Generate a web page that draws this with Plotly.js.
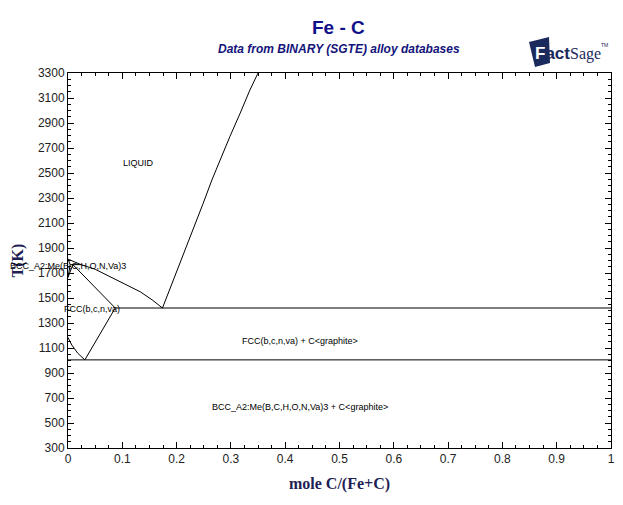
<!DOCTYPE html>
<html>
<head>
<meta charset="utf-8">
<script src="https://cdn.plot.ly/plotly-3.0.1.min.js"></script>
<style>html,body{margin:0;padding:0;background:#fff;}#chart{width:623px;height:505px;}</style>
</head>
<body>
<div id="chart"></div>
<script>
// Phase boundary data (mole fraction C, temperature K)
const liqGraphiteX = [0.174, 0.194, 0.212, 0.231, 0.249, 0.265, 0.280, 0.298, 0.317, 0.335, 0.350];
const liqGraphiteT = [1420, 1644, 1830, 2044, 2258, 2444, 2604, 2790, 2978, 3164, 3300];
const liquidusX = [0.0, 0.024, 0.05, 0.09, 0.133, 0.155, 0.174];
const liquidusT = [1811, 1767, 1730, 1644, 1550, 1485, 1420];
const solidusFccX = [0.009, 0.03, 0.06, 0.087];
const solidusFccT = [1767, 1674, 1540, 1420];
const deltaSolidusX = [0.0, 0.004];
const deltaSolidusT = [1811, 1767];
const deltaGammaBccX = [0.004, 0.0];
const deltaGammaBccT = [1767, 1665];
const deltaGammaFccX = [0.009, 0.0];
const deltaGammaFccT = [1767, 1665];
const peritecticX = [0.004, 0.024];
const peritecticT = [1767, 1767];
const solvusX = [0.031, 0.074, 0.087];
const solvusT = [1005, 1324, 1420];
const a3X = [0.0, 0.007, 0.018, 0.031];
const a3T = [1184, 1124, 1058, 1005];
const eutecticX = [0.087, 1.0];
const eutecticT = [1420, 1420];
const eutectoidX = [0.0, 1.0];
const eutectoidT = [1005, 1005];

const curves = [
  [liqGraphiteX, liqGraphiteT], [liquidusX, liquidusT], [solidusFccX, solidusFccT],
  [deltaSolidusX, deltaSolidusT], [deltaGammaBccX, deltaGammaBccT], [deltaGammaFccX, deltaGammaFccT],
  [peritecticX, peritecticT], [solvusX, solvusT], [a3X, a3T],
  [eutecticX, eutecticT], [eutectoidX, eutectoidT]
];

const labelText = ["LIQUID", "BCC_A2:Me(B,C,H,O,N,Va)3", "FCC(b,c,n,va)", "FCC(b,c,n,va) + C&lt;graphite&gt;", "BCC_A2:Me(B,C,H,O,N,Va)3 + C&lt;graphite&gt;"];
const labelX = [0.129, 0.1105, 0.044, 0.427, 0.427];
const labelT = [2580, 1755, 1416, 1156, 628];
const labelAnchor = ["center", "right", "center", "center", "center"];

const traces = curves.map(c => ({
  x: c[0], y: c[1], type: 'scatter', mode: 'lines',
  line: {color: '#000', width: 1}, hoverinfo: 'skip', showlegend: false, cliponaxis: true
}));

function PX(p){ return (p - 68) / 543; }
function PY(p){ return (448 - p) / 375; }

// x axis spans 0..1, so data x equals paper x; paper ref lets labels extend past the axis
const annotations = labelText.map((t, i) => ({
  x: labelX[i], y: labelT[i], xref: 'paper', yref: 'y', text: t, showarrow: false,
  xanchor: labelAnchor[i], yanchor: 'middle',
  font: {family: 'Liberation Sans, Arial, sans-serif', size: 9, color: '#000'}
}));

annotations.push(
  {x: PX(338), y: PY(28), xref: 'paper', yref: 'paper', text: '<b>Fe - C</b>', showarrow: false,
   xanchor: 'center', yanchor: 'middle', font: {family: 'Liberation Sans, Arial, sans-serif', size: 19, color: '#10108a'}},
  {x: PX(339), y: PY(49), xref: 'paper', yref: 'paper', text: '<b><i>Data from BINARY (SGTE) alloy databases</i></b>', showarrow: false,
   xanchor: 'center', yanchor: 'middle', font: {family: 'Liberation Sans, Arial, sans-serif', size: 12, color: '#14147a'}},
  {x: PX(533), y: PY(53), xref: 'paper', yref: 'paper', text: '<b><span style="color:#ffffff">F</span>act</b>', showarrow: false,
   xanchor: 'left', yanchor: 'middle', font: {family: 'Liberation Sans, Arial, sans-serif', size: 17, color: '#1b2a5c'}},
  {x: PX(568), y: PY(54), xref: 'paper', yref: 'paper', text: 'Sage', showarrow: false,
   xanchor: 'left', yanchor: 'middle', font: {family: 'Liberation Serif, Times New Roman, serif', size: 16, color: '#1b2a5c'}},
  {x: PX(599), y: PY(45), xref: 'paper', yref: 'paper', text: 'TM', showarrow: false,
   xanchor: 'left', yanchor: 'middle', font: {family: 'Liberation Sans, Arial, sans-serif', size: 5, color: '#1b2a5c'}}
);

const shapes = [
  {type: 'path', xref: 'paper', yref: 'paper', layer: 'below',
   path: `M ${PX(529)} ${PY(42)} L ${PX(549)} ${PY(37)} L ${PX(550)} ${PY(63)} L ${PX(535)} ${PY(67)} Z`,
   fillcolor: '#1b2a5c', line: {width: 0}}
];

const axisCommon = {
  showline: true, linecolor: '#000', linewidth: 1, mirror: 'ticks',
  ticks: 'inside', tickcolor: '#000', ticklen: 6, tickwidth: 1,
  showgrid: false, zeroline: false,
  tickfont: {family: 'Liberation Sans, Arial, sans-serif', size: 12, color: '#222'}
};

const layout = {
  width: 623, height: 505,
  margin: {l: 68, r: 12, t: 73, b: 57},
  paper_bgcolor: '#fff', plot_bgcolor: '#fff',
  showlegend: false,
  xaxis: Object.assign({}, axisCommon, {
    range: [0, 1], tick0: 0, dtick: 0.1,
    minor: {dtick: 0.025, ticks: 'inside', ticklen: 3, tickcolor: '#000', showgrid: false},
    title: {text: '<b>mole C/(Fe+C)</b>', standoff: 12,
            font: {family: 'Liberation Serif, Times New Roman, serif', size: 16, color: '#1f1f55'}}
  }),
  yaxis: Object.assign({}, axisCommon, {
    range: [300, 3300], tick0: 300, dtick: 200,
    minor: {dtick: 50, ticks: 'inside', ticklen: 3, tickcolor: '#000', showgrid: false},
    title: {text: '<b>T(K)</b>', standoff: 10,
            font: {family: 'Liberation Serif, Times New Roman, serif', size: 16, color: '#1f1f55'}}
  }),
  annotations: annotations,
  shapes: shapes
};

Plotly.newPlot('chart', traces, layout, {displayModeBar: false, staticPlot: true});
</script>
</body>
</html>
